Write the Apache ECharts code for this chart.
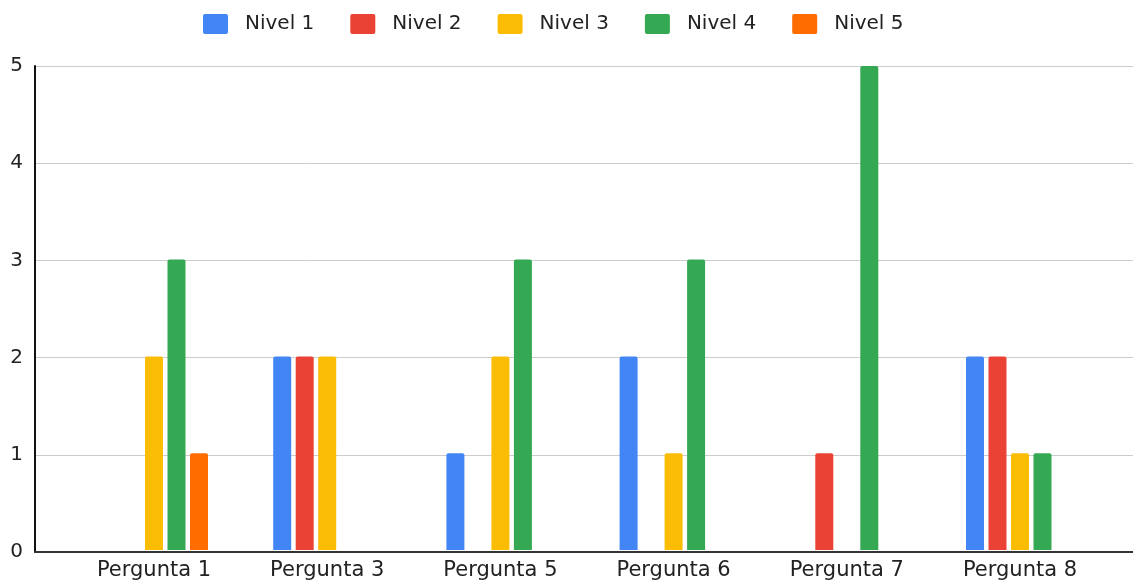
<!DOCTYPE html>
<html>
<head>
<meta charset="utf-8">
<script src="https://cdn.jsdelivr.net/npm/echarts@6/dist/echarts.min.js"></script>
<style>
  html, body { margin: 0; padding: 0; background: #fff; }
  #chart { width: 1133px; height: 581px; }
</style>
</head>
<body>
<div id="chart"></div>
<script>
  // dados
  var categorias = ['Pergunta 1', 'Pergunta 3', 'Pergunta 5', 'Pergunta 6', 'Pergunta 7', 'Pergunta 8']
  var niveis = ['Nivel 1', 'Nivel 2', 'Nivel 3', 'Nivel 4', 'Nivel 5']
  var nivel1 = [0, 2, 1, 2, 0, 2]
  var nivel2 = [0, 2, 0, 0, 1, 2]
  var nivel3 = [2, 2, 2, 1, 0, 1]
  var nivel4 = [3, 0, 3, 3, 5, 1]
  var nivel5 = [1, 0, 0, 0, 0, 0]
  var cores = ['#4285F4', '#EA4335', '#FBBC04', '#34A853', '#FF6D01']

  var chart = echarts.init(document.getElementById('chart'))
  var valores = [nivel1, nivel2, nivel3, nivel4, nivel5]
  var fonte = 'DejaVu Sans'
  // quadrado com cantos levemente arredondados
  var icone = 'path://M2,0H23A2,2 0 0 1 25,2V18A2,2 0 0 1 23,20H2A2,2 0 0 1 0,18V2A2,2 0 0 1 2,0Z'

  var series = niveis.map(function (nome, i) {
    return {
      name: nome,
      type: 'bar',
      xAxisIndex: 1,
      yAxisIndex: 1,
      data: valores[i],
      barWidth: 18,
      barGap: '25%',
      itemStyle: { color: cores[i], borderRadius: [2, 2, 0, 0] }
    }
  })

  var option = {
    animation: false,
    color: cores,
    legend: {
      data: niveis,
      left: 203,
      top: 14,
      padding: 0,
      itemWidth: 25,
      itemHeight: 20,
      itemGap: 36,
      icon: icone,
      textStyle: {
        fontFamily: fonte,
        fontSize: 20,
        color: '#222',
        padding: [0, 0, 0, 12]
      }
    },
    grid: [
      { left: 35, right: 0, top: 66, bottom: 29 },   // linhas de grade
      { left: 67.4, right: 26.4, top: 66, bottom: 29 } // barras
    ],
    xAxis: [
      {
        type: 'value',
        gridIndex: 0,
        min: 0,
        max: 1,
        axisLine: { show: true, lineStyle: { color: '#333', width: 2 } },
        axisTick: { show: false },
        axisLabel: { show: false },
        splitLine: { show: false }
      },
      {
        type: 'category',
        gridIndex: 1,
        data: categorias,
        axisLine: { show: false },
        axisTick: { show: false },
        axisLabel: {
          fontFamily: fonte,
          fontSize: 21,
          color: '#222',
          margin: 10
        }
      }
    ],
    yAxis: [
      {
        type: 'value',
        gridIndex: 0,
        min: 0,
        max: 5,
        interval: 1,
        axisLine: { show: true, lineStyle: { color: '#111', width: 2 } },
        axisTick: { show: false },
        axisLabel: {
          fontFamily: fonte,
          fontSize: 20,
          color: '#222',
          margin: 12
        },
        splitLine: { lineStyle: { color: '#ccc', width: 1 } }
      },
      {
        type: 'value',
        gridIndex: 1,
        min: 0,
        max: 5,
        interval: 1,
        show: false
      }
    ],
    series: series
  }

  chart.setOption(option)
</script>
</body>
</html>
